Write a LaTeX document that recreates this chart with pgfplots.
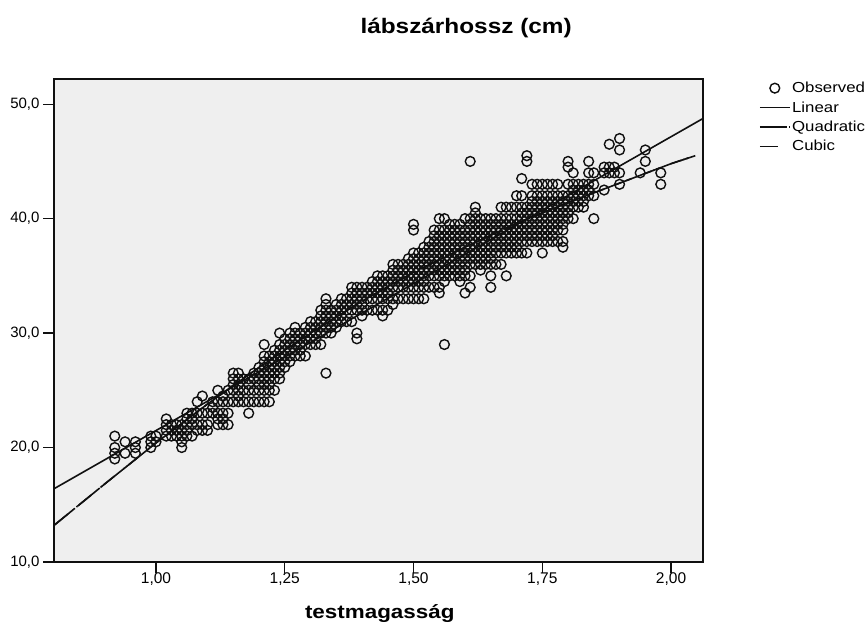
\documentclass[border=0pt]{standalone}
\usepackage{pgfplots}
\pgfplotsset{compat=1.18}
\usepackage{fontspec}
\setmainfont{Liberation Sans}
\definecolor{plotbg}{HTML}{EFEFEF}
\definecolor{ink}{HTML}{101010}
\newcommand{\wide}[1]{\scalebox{1.16}[1]{#1}}
\begin{document}
\begin{tikzpicture}[x=1pt,y=1pt]
\path[use as bounding box] (0,0) rectangle (866,626);
\begin{axis}[
  at={(54pt,64pt)}, anchor=south west,
  scale only axis, width=649pt, height=483pt,
  xmin=0.802, xmax=2.062, ymin=10, ymax=52.2,
  axis background/.style={fill=plotbg},
  axis line style={draw=ink,line width=1.2pt},
  enlargelimits=false,
  xtick={1,1.25,1.5,1.75,2}, xticklabels={{1,00},{1,25},{1,50},{1,75},{2,00}},
  ytick={10,20,30,40,50}, yticklabels={{10,0},{20,0},{30,0},{40,0},{50,0}},
  tick align=outside, tick style={draw=ink,line width=1.2pt},
  x tick label style={font=\fontsize{15.5}{18}\selectfont},
  y tick label style={font=\fontsize{15}{18}\selectfont},
  major tick length=11pt, xtick pos=bottom, ytick pos=left,
  xticklabel style={yshift=3.5pt},
  title={\scalebox{1.16}[1]{\fontsize{21}{24}\selectfont\bfseries lábszárhossz (cm)}},
  title style={at={(axis description cs:0.635,1.094)},anchor=center},
  xlabel={\scalebox{1.18}[1]{\fontsize{19}{22}\selectfont\bfseries testmagasság}},
  xlabel style={at={(axis description cs:0.502,-0.106)},anchor=center},
  legend image code/.code={\draw[mark repeat=2,mark phase=2,#1] plot coordinates {(0pt,0)(15pt,0)(30pt,0)};},
  legend style={at={(axis description cs:1.086,0.998)},anchor=north west,draw=none,fill=none,
    font=\fontsize{14.5}{16}\selectfont,inner sep=0pt,
    row sep=3.4pt,/tikz/every node/.append style={inner xsep=1.5pt}},
  legend cell align=left,
]
\addplot[only marks,mark=o,mark size=4.9pt,mark options={line width=1.4pt,draw=ink,fill=none},draw=ink] coordinates {
(.92,19)(.92,19.5)(.92,20)(.92,21)(.94,19.5)(.94,20.5)(.96,19.5)(.96,20)(.96,20.5)
(.99,20)(.99,20.5)(.99,21)(1,20.5)(1,21)
(1.02,21)(1.02,21.5)(1.02,22)(1.02,22.5)(1.03,21)(1.03,21.5)(1.03,22)(1.04,21)(1.04,21.5)(1.04,22)
(1.05,20)(1.05,20.5)(1.05,21)(1.05,21.5)(1.05,22)(1.06,21)(1.06,21.5)(1.06,22)(1.06,22.5)(1.06,23)
(1.07,21)(1.07,22)(1.07,22.5)(1.07,23)(1.08,21.5)(1.08,22)(1.08,23)(1.08,24)
(1.09,21.5)(1.09,22)(1.09,23)(1.09,24.5)(1.1,21.5)(1.1,22)(1.1,23)(1.11,23)(1.11,23.5)(1.11,24)
(1.12,22)(1.12,22.5)(1.12,23)(1.12,24)(1.12,25)(1.13,22)(1.13,22.5)(1.13,23)(1.13,24)(1.13,24.5)
(1.14,22)(1.14,23)(1.14,24)(1.14,25)(1.15,24)(1.15,25)(1.15,25.5)(1.15,26)(1.15,26.5)
(1.16,24)(1.16,24.5)(1.16,25)(1.16,25.5)(1.16,26)(1.16,26.5)(1.17,24)(1.17,25)(1.17,26)
(1.18,23)(1.18,24)(1.18,25)(1.18,25.5)(1.18,26)(1.19,24)(1.19,25)(1.19,26)(1.19,26.5)
(1.2,24)(1.2,25)(1.2,26)(1.2,27)(1.21,24)(1.21,25)(1.21,26)(1.21,27)(1.21,28)(1.21,29)
(1.22,24)(1.22,25)(1.22,26)(1.22,27)(1.22,28)(1.23,25)(1.23,26)(1.23,27)(1.23,28)(1.23,28.5)
(1.24,26)(1.24,27)(1.24,28)(1.24,29)(1.24,30)(1.25,27)(1.25,28)(1.25,29)(1.25,29.5)
(1.26,27.5)(1.26,28)(1.26,29)(1.26,30)(1.27,28)(1.27,29)(1.27,30)(1.27,30.5)(1.28,28)(1.28,29)(1.28,30)
(1.29,28)(1.29,29)(1.29,30)(1.29,30.5)(1.3,29)(1.3,29.5)(1.3,30)(1.3,31)(1.31,29)(1.31,30)(1.31,31)
(1.32,29)(1.32,30)(1.32,31)(1.32,32)(1.33,26.5)(1.33,30)(1.33,31)(1.33,32)(1.33,33)
(1.34,30)(1.34,31)(1.34,32)(1.35,30.5)(1.35,31)(1.35,32)(1.35,32.5)(1.36,31)(1.36,32)(1.36,33)
(1.37,31)(1.37,32)(1.37,33)(1.38,31)(1.38,32)(1.38,33)(1.38,34)(1.39,29.5)(1.39,30)(1.39,32)(1.39,33)(1.39,34)
(1.4,31.5)(1.4,32)(1.4,33)(1.4,34)(1.41,32)(1.41,33)(1.41,34)(1.42,32)(1.42,33)(1.42,34)(1.42,34.5)
(1.43,32)(1.43,33)(1.43,34)(1.43,35)(1.44,31.5)(1.44,32)(1.44,33)(1.44,34)(1.44,35)
(1.45,32)(1.45,33)(1.45,34)(1.45,35)(1.46,32.5)(1.46,33)(1.46,34)(1.46,35)(1.46,36)
(1.47,33)(1.47,34)(1.47,35)(1.47,36)(1.48,33)(1.48,34)(1.48,35)(1.48,36)
(1.49,33)(1.49,34)(1.49,35)(1.49,36)(1.49,36.5)(1.5,33)(1.5,34)(1.5,35)(1.5,36)(1.5,37)(1.5,39)(1.5,39.5)
(1.51,33)(1.51,34)(1.51,35)(1.51,36)(1.51,37)(1.52,33)(1.52,34)(1.52,35)(1.52,36)(1.52,37)(1.52,37.5)
(1.53,34)(1.53,35)(1.53,36)(1.53,37)(1.53,38)(1.54,34)(1.54,35)(1.54,36)(1.54,37)(1.54,38)(1.54,38.5)(1.54,39)
(1.55,33.5)(1.55,34)(1.55,35)(1.55,36)(1.55,37)(1.55,38)(1.55,39)(1.55,40)
(1.56,29)(1.56,34.5)(1.56,35)(1.56,36)(1.56,37)(1.56,38)(1.56,39)(1.56,40)
(1.57,35)(1.57,36)(1.57,37)(1.57,38)(1.57,39)(1.57,39.5)(1.58,35)(1.58,36)(1.58,37)(1.58,38)(1.58,39)(1.58,39.5)
(1.59,34.5)(1.59,35)(1.59,36)(1.59,37)(1.59,38)(1.59,39)(1.59,39.5)
(1.6,33.5)(1.6,35)(1.6,36)(1.6,37)(1.6,38)(1.6,39)(1.6,40)
(1.61,34)(1.61,35)(1.61,36)(1.61,37)(1.61,38)(1.61,39)(1.61,40)(1.61,45)
(1.62,36)(1.62,37)(1.62,38)(1.62,39)(1.62,40)(1.62,40.5)(1.62,41)
(1.63,35.5)(1.63,36)(1.63,37)(1.63,38)(1.63,39)(1.63,40)(1.64,36)(1.64,37)(1.64,38)(1.64,39)(1.64,40)
(1.65,34)(1.65,35)(1.65,36)(1.65,37)(1.65,38)(1.65,39)(1.65,40)(1.66,36)(1.66,37)(1.66,38)(1.66,39)(1.66,40)
(1.67,36)(1.67,37)(1.67,38)(1.67,39)(1.67,40)(1.67,41)(1.68,35)(1.68,37)(1.68,38)(1.68,39)(1.68,40)(1.68,41)
(1.69,37)(1.69,38)(1.69,39)(1.69,40)(1.69,41)(1.7,37)(1.7,38)(1.7,39)(1.7,40)(1.7,41)(1.7,42)
(1.71,37)(1.71,38)(1.71,39)(1.71,40)(1.71,41)(1.71,42)(1.71,43.5)
(1.72,37)(1.72,38)(1.72,39)(1.72,40)(1.72,41)(1.72,45)(1.72,45.5)
(1.73,38)(1.73,39)(1.73,40)(1.73,41)(1.73,42)(1.73,43)(1.74,38)(1.74,39)(1.74,40)(1.74,41)(1.74,42)(1.74,43)
(1.75,37)(1.75,38)(1.75,39)(1.75,40)(1.75,41)(1.75,42)(1.75,43)(1.76,38)(1.76,39)(1.76,40)(1.76,41)(1.76,42)(1.76,43)
(1.77,38)(1.77,39)(1.77,40)(1.77,41)(1.77,42)(1.77,43)(1.78,38)(1.78,39)(1.78,40)(1.78,41)(1.78,42)(1.78,43)
(1.79,37.5)(1.79,38)(1.79,39)(1.79,40)(1.79,41)(1.79,42)(1.8,40)(1.8,41)(1.8,42)(1.8,43)(1.8,44.5)(1.8,45)
(1.81,40)(1.81,41)(1.81,42)(1.81,43)(1.81,44)(1.82,41)(1.82,42)(1.82,43)(1.83,41)(1.83,42)(1.83,43)
(1.84,42)(1.84,43)(1.84,44)(1.84,45)(1.85,40)(1.85,42)(1.85,43)(1.85,44)
(1.87,42.5)(1.87,44)(1.87,44.5)(1.88,44)(1.88,44.5)(1.88,46.5)(1.89,44)(1.89,44.5)
(1.9,43)(1.9,44)(1.9,46)(1.9,47)(1.94,44)(1.95,45)(1.95,46)(1.98,43)(1.98,44)
};
\addlegendentry{\wide{Observed}}
\addplot[forget plot,only marks,mark=o,mark size=4.9pt,mark options={line width=1.4pt,draw=ink,fill=none},draw=ink] coordinates {
(1.2,25.5)(1.2,26.5)(1.21,25.5)(1.21,26.5)(1.21,27.5)(1.22,25.5)(1.22,26.5)(1.22,27.5)(1.23,26.5)(1.23,27.5)
(1.24,26.5)(1.24,27.5)(1.24,28.5)(1.25,27.5)(1.25,28.5)(1.26,28.5)(1.26,29.5)(1.27,28.5)(1.27,29.5)(1.28,28.5)(1.28,29.5)
(1.29,29.5)(1.3,30.5)(1.31,29.5)(1.31,30.5)(1.32,30.5)(1.32,31.5)(1.33,30.5)(1.33,31.5)(1.33,32.5)(1.34,30.5)(1.34,31.5)
(1.35,31.5)(1.36,31.5)(1.36,32.5)(1.37,32.5)(1.38,32.5)(1.38,33.5)(1.39,32.5)(1.39,33.5)(1.4,32.5)(1.4,33.5)
(1.41,33.5)(1.42,33.5)(1.43,33.5)(1.43,34.5)(1.44,33.5)(1.44,34.5)(1.45,33.5)(1.45,34.5)
(1.46,34.5)(1.46,35.5)(1.47,34.5)(1.47,35.5)(1.48,34.5)(1.48,35.5)(1.49,34.5)(1.49,35.5)
(1.5,34.5)(1.5,35.5)(1.5,36.5)(1.51,34.5)(1.51,35.5)(1.51,36.5)(1.52,34.5)(1.52,35.5)(1.52,36.5)
(1.53,35.5)(1.53,36.5)(1.53,37.5)(1.54,35.5)(1.54,36.5)(1.54,37.5)(1.55,35.5)(1.55,36.5)(1.55,37.5)(1.55,38.5)
(1.56,35.5)(1.56,36.5)(1.56,37.5)(1.56,38.5)(1.57,35.5)(1.57,36.5)(1.57,37.5)(1.57,38.5)
(1.58,35.5)(1.58,36.5)(1.58,37.5)(1.58,38.5)(1.59,35.5)(1.59,36.5)(1.59,37.5)(1.59,38.5)
(1.6,35.5)(1.6,36.5)(1.6,37.5)(1.6,38.5)(1.61,36.5)(1.61,37.5)(1.61,38.5)(1.61,39.5)
(1.62,36.5)(1.62,37.5)(1.62,38.5)(1.62,39.5)(1.63,36.5)(1.63,37.5)(1.63,38.5)(1.63,39.5)
(1.64,36.5)(1.64,37.5)(1.64,38.5)(1.64,39.5)(1.65,36.5)(1.65,37.5)(1.65,38.5)(1.65,39.5)
(1.66,37.5)(1.66,38.5)(1.66,39.5)(1.67,37.5)(1.67,38.5)(1.67,39.5)(1.68,37.5)(1.68,38.5)(1.68,39.5)
(1.69,37.5)(1.69,38.5)(1.69,39.5)(1.7,37.5)(1.7,38.5)(1.7,39.5)
(1.71,38.5)(1.71,39.5)(1.71,40.5)(1.72,38.5)(1.72,39.5)(1.72,40.5)(1.73,38.5)(1.73,39.5)(1.73,40.5)(1.73,41.5)
(1.74,38.5)(1.74,39.5)(1.74,40.5)(1.74,41.5)(1.75,38.5)(1.75,39.5)(1.75,40.5)(1.75,41.5)
(1.76,38.5)(1.76,39.5)(1.76,40.5)(1.76,41.5)(1.77,38.5)(1.77,39.5)(1.77,40.5)(1.77,41.5)
(1.78,39.5)(1.78,40.5)(1.78,41.5)(1.79,39.5)(1.79,40.5)(1.79,41.5)(1.8,40.5)(1.8,41.5)
(1.81,41.5)(1.81,42.5)(1.82,41.5)(1.82,42.5)(1.83,41.5)(1.83,42.5)(1.84,42.5)
};
\addplot[draw=ink,line width=1.6pt] coordinates {(.802,16.4)(2.062,48.75)};
\addlegendentry{\wide{Linear}}
\addplot[draw=ink,line width=1.6pt,dash pattern=on 27pt off 2pt on 1pt off 2pt] coordinates {
(.802,13.2)(.9,16.8)(1,20.4)(1.1,23.8)(1.2,27)(1.3,30)(1.4,32.8)(1.5,35.3)(1.6,37.5)(1.7,39.6)(1.8,41.4)(1.9,43.1)(2,44.8)(2.047,45.5)};
\addlegendentry{\wide{Quadratic}}
\addplot[draw=ink,line width=1.6pt,dash pattern=on 18pt off 12pt] coordinates {
(.802,13.2)(.9,16.8)(1,20.4)(1.1,23.8)(1.2,27)(1.3,30)(1.4,32.8)(1.5,35.3)(1.6,37.5)(1.7,39.6)(1.8,41.4)(1.9,43.1)(2,44.8)(2.047,45.5)};
\addlegendentry{\wide{Cubic}}
\end{axis}
\end{tikzpicture}
\end{document}
